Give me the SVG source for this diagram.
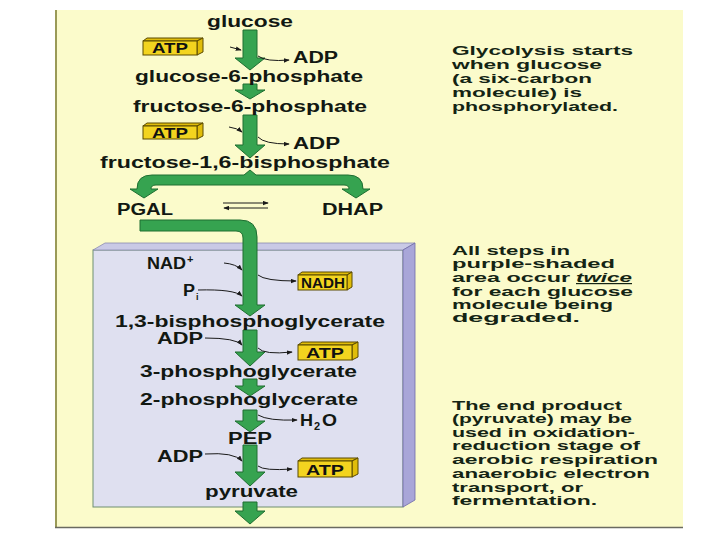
<svg xmlns="http://www.w3.org/2000/svg" width="720" height="540" viewBox="0 0 720 540">
<defs>
<style>
.lbl{font-family:"Liberation Sans",Arial,sans-serif;font-weight:bold;font-size:16px;fill:#121812}
.sm{font-family:"Liberation Sans",Arial,sans-serif;font-weight:bold;font-size:11px;fill:#121812}
.note{font-family:"Liberation Sans",Arial,sans-serif;font-weight:bold;font-size:13px;fill:#142414}
.note2{font-family:"Liberation Sans",Arial,sans-serif;font-weight:bold;font-size:12px;fill:#142414}
.arr{fill:#36a350;stroke:#1e6e31;stroke-width:1;stroke-linejoin:round}
.thin{fill:none;stroke:#1a1a1a;stroke-width:1}
.boxf{fill:#f3d41f;stroke:#5a4a00;stroke-width:1}
.boxs{fill:#e0bd0a;stroke:#5a4a00;stroke-width:1}
.boxt{font-family:"Liberation Sans",Arial,sans-serif;font-weight:bold;font-size:14px;fill:#111}
</style>
<marker id="ah" viewBox="0 0 8 6" refX="7" refY="3" markerWidth="6" markerHeight="5" orient="auto" markerUnits="userSpaceOnUse">
<path d="M0,0 L8,3 L0,6 Z" fill="#1a1a1a"/>
</marker>
</defs>

<rect x="0" y="0" width="720" height="540" fill="#ffffff"/>
<rect id="background" x="55" y="10" width="628" height="518" fill="#fbfbcb"/>
<line x1="56" y1="10" x2="56" y2="528" stroke="#7a7a30" stroke-width="1.5"/>
<line x1="55" y1="527.5" x2="683" y2="527.5" stroke="#6a6a60" stroke-width="1.5"/>

<g id="purple-box">
<rect x="93" y="250" width="310" height="257" fill="#dfe0f0" stroke="#6f8f70" stroke-width="1"/>
<polygon points="93,250 105,243 415,243 403,250" fill="#c9c9e6" stroke="#8a8ab0" stroke-width="0.8"/>
<polygon points="403,250 415,243 415,500 403,507" fill="#a9a6d8" stroke="#6e6aa8" stroke-width="0.8"/>
</g>

<g id="connectors">
<path class="arr" d="M243,30 H257 V58 H265 L250,70 L235,58 H243 Z"/>
<path class="arr" d="M243,84 H257 V90 H265 L250,99 L235,90 H243 Z"/>
<path class="arr" d="M243,115 H257 V145 H265 L250,158 L235,145 H243 Z"/>
<path class="arr" d="M137,189 Q137,175 152,175 H244 L250,170 L256,175 H348 Q363,175 363,189 H370 L356,198 L342,189 H349 Q349,185 344,185 H156 Q151,185 151,189 H158 L144,198 L130,189 Z"/>
<path class="arr" d="M140,220 H240 Q257,220 257,237 V305 H265 L250,316 L235,305 H243 V238 Q243,231 236,231 H140 Z"/>
<path class="arr" d="M243,330 H257 V352 H265 L250,366 L235,352 H243 Z"/>
<path class="arr" d="M243,379 H257 V386 H265 L250,396 L235,386 H243 Z"/>
<path class="arr" d="M243,410 H257 V421 H265 L250,432 L235,421 H243 Z"/>
<path class="arr" d="M243,445 H257 V472 H265 L250,486 L235,472 H243 Z"/>
<path class="arr" d="M243,502 H257 V511 H265 L250,524 L235,511 H243 Z"/>

<path class="thin" d="M230,47 L241,50" marker-end="url(#ah)"/>
<path class="thin" d="M258,56 Q266,62 289,60" marker-end="url(#ah)"/>
<path class="thin" d="M229,127 Q237,128 242,132" marker-end="url(#ah)"/>
<path class="thin" d="M258,137 Q264,144 289,144" marker-end="url(#ah)"/>
<path class="thin" d="M223,203 H268" marker-end="url(#ah)"/>
<path class="thin" d="M268,208 H224" marker-end="url(#ah)"/>
<path class="thin" d="M224,263 Q236,264 242,270" marker-end="url(#ah)"/>
<path class="thin" d="M198,290 Q234,289 242,296" marker-end="url(#ah)"/>
<path class="thin" d="M258,275 Q265,281 296,281" marker-end="url(#ah)"/>
<path class="thin" d="M205,338 Q236,338 242,345" marker-end="url(#ah)"/>
<path class="thin" d="M258,348 Q264,355 292,352" marker-end="url(#ah)"/>
<path class="thin" d="M258,415 Q268,421 297,420" marker-end="url(#ah)"/>
<path class="thin" d="M205,454 Q234,452 242,461" marker-end="url(#ah)"/>
<path class="thin" d="M258,466 Q264,471 292,469" marker-end="url(#ah)"/>
</g>

<g id="atp1" transform="translate(143,38)">
<polygon class="boxs" points="0,3 4,0 60,0 54,3"/>
<polygon class="boxs" points="54,3 60,0 60,14 54,17"/>
<rect class="boxf" x="0" y="3" width="54" height="14"/>
<text class="boxt" x="27" y="15" text-anchor="middle" textLength="36" lengthAdjust="spacingAndGlyphs">ATP</text>
</g>
<g id="atp2" transform="translate(143,123)">
<polygon class="boxs" points="0,3 4,0 60,0 54,3"/>
<polygon class="boxs" points="54,3 60,0 60,13 54,16"/>
<rect class="boxf" x="0" y="3" width="54" height="13"/>
<text class="boxt" x="27" y="14.5" text-anchor="middle" textLength="36" lengthAdjust="spacingAndGlyphs">ATP</text>
</g>
<g id="nadh" transform="translate(298,272)">
<polygon class="boxs" points="0,3 4,0 54,0 49,3"/>
<polygon class="boxs" points="49,3 54,0 54,15 49,18"/>
<rect class="boxf" x="0" y="3" width="49" height="15"/>
<text class="boxt" x="25" y="16" text-anchor="middle" textLength="44" lengthAdjust="spacingAndGlyphs">NADH</text>
</g>
<g id="atp3" transform="translate(298,342)">
<polygon class="boxs" points="0,3 4,0 60,0 54,3"/>
<polygon class="boxs" points="54,3 60,0 60,15 54,18"/>
<rect class="boxf" x="0" y="3" width="54" height="15"/>
<text class="boxt" x="27" y="16" text-anchor="middle" textLength="38" lengthAdjust="spacingAndGlyphs">ATP</text>
</g>
<g id="atp4" transform="translate(298,458)">
<polygon class="boxs" points="0,3 4,0 60,0 54,3"/>
<polygon class="boxs" points="54,3 60,0 60,16 54,19"/>
<rect class="boxf" x="0" y="3" width="54" height="16"/>
<text class="boxt" x="27" y="16.5" text-anchor="middle" textLength="38" lengthAdjust="spacingAndGlyphs">ATP</text>
</g>

<g id="glucose"><text class="lbl" x="207" y="27" textLength="86" lengthAdjust="spacingAndGlyphs">glucose</text></g>
<g id="adp1"><text class="lbl" x="293" y="63" textLength="45" lengthAdjust="spacingAndGlyphs">ADP</text></g>
<g id="g6p"><text class="lbl" x="135" y="82" textLength="228" lengthAdjust="spacingAndGlyphs">glucose-6-phosphate</text></g>
<g id="f6p"><text class="lbl" x="133" y="112" textLength="234" lengthAdjust="spacingAndGlyphs">fructose-6-phosphate</text></g>
<g id="adp2"><text class="lbl" x="293" y="149" textLength="47" lengthAdjust="spacingAndGlyphs">ADP</text></g>
<g id="f16bp"><text class="lbl" x="100" y="168" textLength="290" lengthAdjust="spacingAndGlyphs">fructose-1,6-bisphosphate</text></g>
<g id="pgal"><text class="lbl" x="117" y="215" textLength="56" lengthAdjust="spacingAndGlyphs">PGAL</text></g>
<g id="dhap"><text class="lbl" x="322" y="215" textLength="61" lengthAdjust="spacingAndGlyphs">DHAP</text></g>
<g id="nad"><text class="lbl" x="147" y="269" textLength="39" lengthAdjust="spacingAndGlyphs">NAD</text><text class="sm" x="187" y="263">+</text></g>
<g id="pi"><text class="lbl" x="183" y="296" textLength="12" lengthAdjust="spacingAndGlyphs">P</text><text class="sm" x="196" y="300" style="font-size:9px">i</text></g>
<g id="bpg"><text class="lbl" x="115" y="327" textLength="270" lengthAdjust="spacingAndGlyphs">1,3-bisphosphoglycerate</text></g>
<g id="adp3"><text class="lbl" x="157" y="344" textLength="46" lengthAdjust="spacingAndGlyphs">ADP</text></g>
<g id="pg3"><text class="lbl" x="140" y="377" textLength="217" lengthAdjust="spacingAndGlyphs">3-phosphoglycerate</text></g>
<g id="pg2"><text class="lbl" x="140" y="405" textLength="218" lengthAdjust="spacingAndGlyphs">2-phosphoglycerate</text></g>
<g id="h2o"><text class="lbl" x="300" y="426" textLength="13" lengthAdjust="spacingAndGlyphs">H</text><text class="sm" x="314" y="430">2</text><text class="lbl" x="322" y="426" textLength="15" lengthAdjust="spacingAndGlyphs">O</text></g>
<g id="pep"><text class="lbl" x="228" y="444" textLength="44" lengthAdjust="spacingAndGlyphs">PEP</text></g>
<g id="adp4"><text class="lbl" x="157" y="462" textLength="46" lengthAdjust="spacingAndGlyphs">ADP</text></g>
<g id="pyruvate"><text class="lbl" x="205" y="497" textLength="93" lengthAdjust="spacingAndGlyphs">pyruvate</text></g>

<g id="note1">
<text class="note" x="452" y="55" textLength="181" lengthAdjust="spacingAndGlyphs">Glycolysis starts</text>
<text class="note" x="452" y="69" textLength="150" lengthAdjust="spacingAndGlyphs">when glucose</text>
<text class="note" x="452" y="83" textLength="140" lengthAdjust="spacingAndGlyphs">(a six-carbon</text>
<text class="note" x="452" y="97" textLength="130" lengthAdjust="spacingAndGlyphs">molecule) is</text>
<text class="note" x="452" y="111" textLength="166" lengthAdjust="spacingAndGlyphs">phosphorylated.</text>
</g>
<g id="note2">
<text class="note2" x="452" y="255" textLength="118" lengthAdjust="spacingAndGlyphs">All steps in</text>
<text class="note2" x="452" y="268" textLength="163" lengthAdjust="spacingAndGlyphs">purple-shaded</text>
<text class="note2" x="452" y="282" textLength="118" lengthAdjust="spacingAndGlyphs">area occur</text>
<text class="note2" x="576" y="282" textLength="56" lengthAdjust="spacingAndGlyphs" font-style="italic" text-decoration="underline">twice</text>
<text class="note2" x="452" y="296" textLength="181" lengthAdjust="spacingAndGlyphs">for each glucose</text>
<text class="note2" x="452" y="309" textLength="161" lengthAdjust="spacingAndGlyphs">molecule being</text>
<text class="note2" x="452" y="322" textLength="128" lengthAdjust="spacingAndGlyphs">degraded.</text>
</g>
<g id="note3">
<text class="note2" x="452" y="410" textLength="170" lengthAdjust="spacingAndGlyphs">The end product</text>
<text class="note2" x="452" y="423" textLength="180" lengthAdjust="spacingAndGlyphs">(pyruvate) may be</text>
<text class="note2" x="452" y="437" textLength="183" lengthAdjust="spacingAndGlyphs">used in oxidation-</text>
<text class="note2" x="452" y="450" textLength="188" lengthAdjust="spacingAndGlyphs">reduction stage of</text>
<text class="note2" x="452" y="464" textLength="206" lengthAdjust="spacingAndGlyphs">aerobic respiration</text>
<text class="note2" x="452" y="478" textLength="198" lengthAdjust="spacingAndGlyphs">anaerobic electron</text>
<text class="note2" x="452" y="492" textLength="131" lengthAdjust="spacingAndGlyphs">transport, or</text>
<text class="note2" x="452" y="505" textLength="145" lengthAdjust="spacingAndGlyphs">fermentation.</text>
</g>
</svg>
